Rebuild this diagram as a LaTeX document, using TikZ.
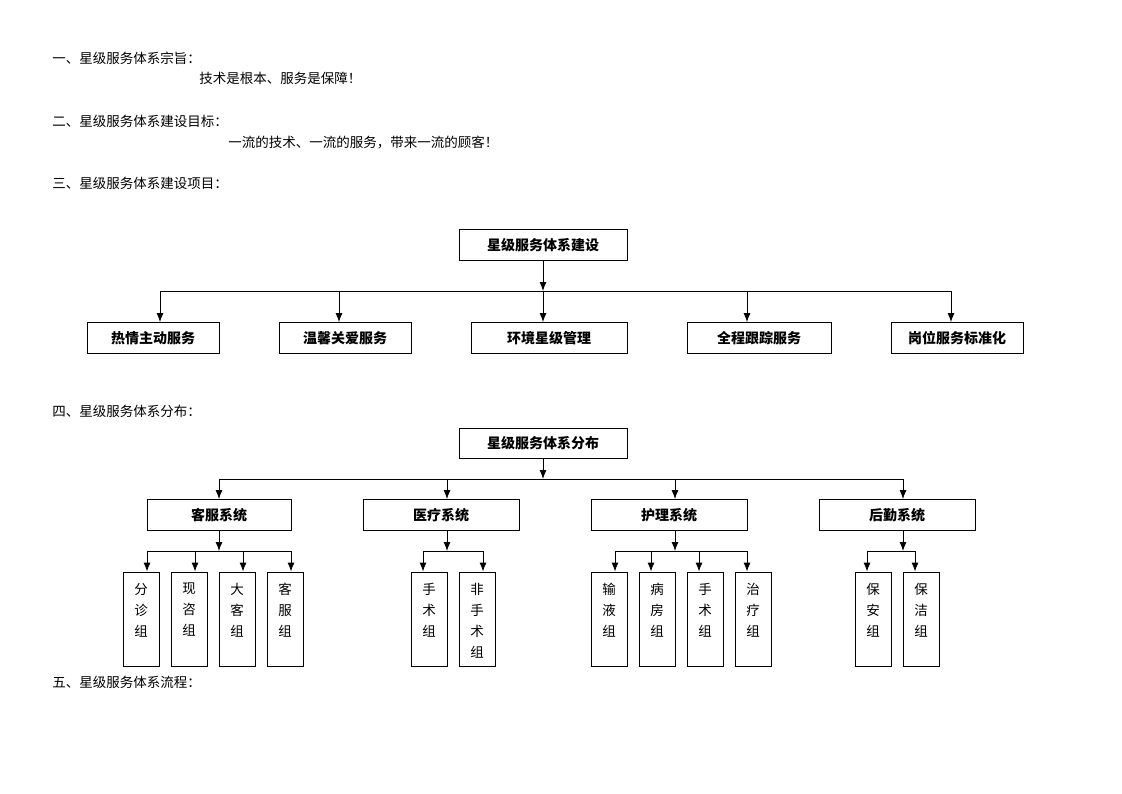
\documentclass[tikz,border=0pt]{standalone}
\usepackage{fontspec}
\setmainfont{Noto Sans CJK SC}
\usepackage{tikz}
\usetikzlibrary{arrows.meta}
\usetikzlibrary{calc}

\newcommand{\vtxt}[1]{\parbox[c][72pt][t]{16pt}{\centering\fontsize{13.5}{21}\selectfont #1}}

\begin{document}
\begin{tikzpicture}[x=1pt, y=-1pt,
  every path/.style={line width=0.9pt},
  arr/.style={-{Latex[length=9pt,width=7pt]}},
  txt/.style={anchor=west, inner sep=0pt, font=\fontsize{13.5}{16}\selectfont},
  box/.style={draw, inner sep=0pt, minimum height=31pt, font=\fontsize{14}{16}\selectfont\bfseries},
  leaf/.style={draw, inner xsep=0pt, inner ysep=11pt, minimum width=36pt, minimum height=94pt}]
\useasboundingbox (0,0) rectangle (1122,793);

% headings
\node[txt] (h1) at (52,58) {一、星级服务体系宗旨：};
\node[txt] (h1a) at (199,78) {技术是根本、服务是保障！};
\node[txt] (h2) at (52,121) {二、星级服务体系建设目标：};
\node[txt] (h2a) at (228,142) {一流的技术、一流的服务，带来一流的顾客！};
\node[txt] (h3) at (52,183) {三、星级服务体系建设项目：};
\node[txt] (h4) at (52,411) {四、星级服务体系分布：};
\node[txt] (h5) at (52,682) {五、星级服务体系流程：};

% building items
\node[box, minimum width=168pt] (jianshe) at (543,245) {星级服务体系建设};
\node[box, minimum width=132pt] (rq) at (153,338) {热情主动服务};
\node[box, minimum width=132pt] (wx) at (345,338) {温馨关爱服务};
\node[box, minimum width=156pt] (hj) at (549,338) {环境星级管理};
\node[box, minimum width=144pt] (qc) at (759,338) {全程跟踪服务};
\node[box, minimum width=132pt] (gw) at (957,338) {岗位服务标准化};
\coordinate (bus1) at (543,291);

\draw[arr] (jianshe.south) -- (bus1);
\draw ([xshift=7pt]rq.north |- bus1) -- ([xshift=-6pt]gw.north |- bus1);
\foreach \n/\d in {rq/7,wx/-6,hj/-6,qc/-12,gw/-6}
  \draw[arr] ([xshift=\d pt]\n.north |- bus1) -- ([xshift=\d pt]\n.north);

% distribution
\node[box, minimum width=168pt, minimum height=30pt] (fenbu) at (543,443) {星级服务体系分布};
\node[box, minimum width=144pt] (kf) at (219,515) {客服系统};
\node[box, minimum width=156pt] (yl) at (441,515) {医疗系统};
\node[box, minimum width=156pt] (hl) at (669,515) {护理系统};
\node[box, minimum width=156pt] (hq) at (897,515) {后勤系统};
\coordinate (bus2) at (543,479);

\draw[arr] (fenbu.south) -- (bus2);
\draw (kf.north |- bus2) -- ([xshift=6pt]hq.north |- bus2);
\foreach \n/\d in {kf/0,yl/6,hl/6,hq/6}
  \draw[arr] ([xshift=\d pt]\n.north |- bus2) -- ([xshift=\d pt]\n.north);

% groups
\node[leaf] (fz) at (141,619) {\vtxt{分\\诊\\组}};
\node[leaf] (xz) at (189,619) {\vtxt{现\\咨\\组}};
\node[leaf] (dk) at (237,619) {\vtxt{大\\客\\组}};
\node[leaf] (kfz) at (285,619) {\vtxt{客\\服\\组}};
\node[leaf] (ss1) at (429,619) {\vtxt{手\\术\\组}};
\node[leaf] (fss) at (477,619) {\vtxt{非\\手\\术\\组}};
\node[leaf] (sy) at (609,619) {\vtxt{输\\液\\组}};
\node[leaf] (bf) at (657,619) {\vtxt{病\\房\\组}};
\node[leaf] (ss2) at (705,619) {\vtxt{手\\术\\组}};
\node[leaf] (zl) at (753,619) {\vtxt{治\\疗\\组}};
\node[leaf] (ba) at (873,619) {\vtxt{保\\安\\组}};
\node[leaf] (bj) at (921,619) {\vtxt{保\\洁\\组}};

\coordinate (b3) at (0,551);
\draw[arr] (kf.south) -- (kf.south |- b3);
\draw ([xshift=6pt]fz.north |- b3) -- ([xshift=6pt]kfz.north |- b3);
\foreach \n in {fz,xz,dk,kfz}
  \draw[arr] ([xshift=6pt]\n.north |- b3) -- ([xshift=6pt]\n.north);

\draw[arr] ([xshift=6pt]yl.south) -- ([xshift=6pt]yl.south |- b3);
\draw ([xshift=-6pt]ss1.north |- b3) -- ([xshift=6pt]fss.north |- b3);
\foreach \n/\d in {ss1/-6,fss/6}
  \draw[arr] ([xshift=\d pt]\n.north |- b3) -- ([xshift=\d pt]\n.north);

\draw[arr] ([xshift=6pt]hl.south) -- ([xshift=6pt]hl.south |- b3);
\draw ([xshift=6pt]sy.north |- b3) -- ([xshift=-6pt]zl.north |- b3);
\foreach \n/\d in {sy/6,bf/-6,ss2/-6,zl/-6}
  \draw[arr] ([xshift=\d pt]\n.north |- b3) -- ([xshift=\d pt]\n.north);

\draw[arr] ([xshift=6pt]hq.south) -- ([xshift=6pt]hq.south |- b3);
\draw ([xshift=-6pt]ba.north |- b3) -- ([xshift=-6pt]bj.north |- b3);
\foreach \n in {ba,bj}
  \draw[arr] ([xshift=-6pt]\n.north |- b3) -- ([xshift=-6pt]\n.north);
\end{tikzpicture}
\end{document}
